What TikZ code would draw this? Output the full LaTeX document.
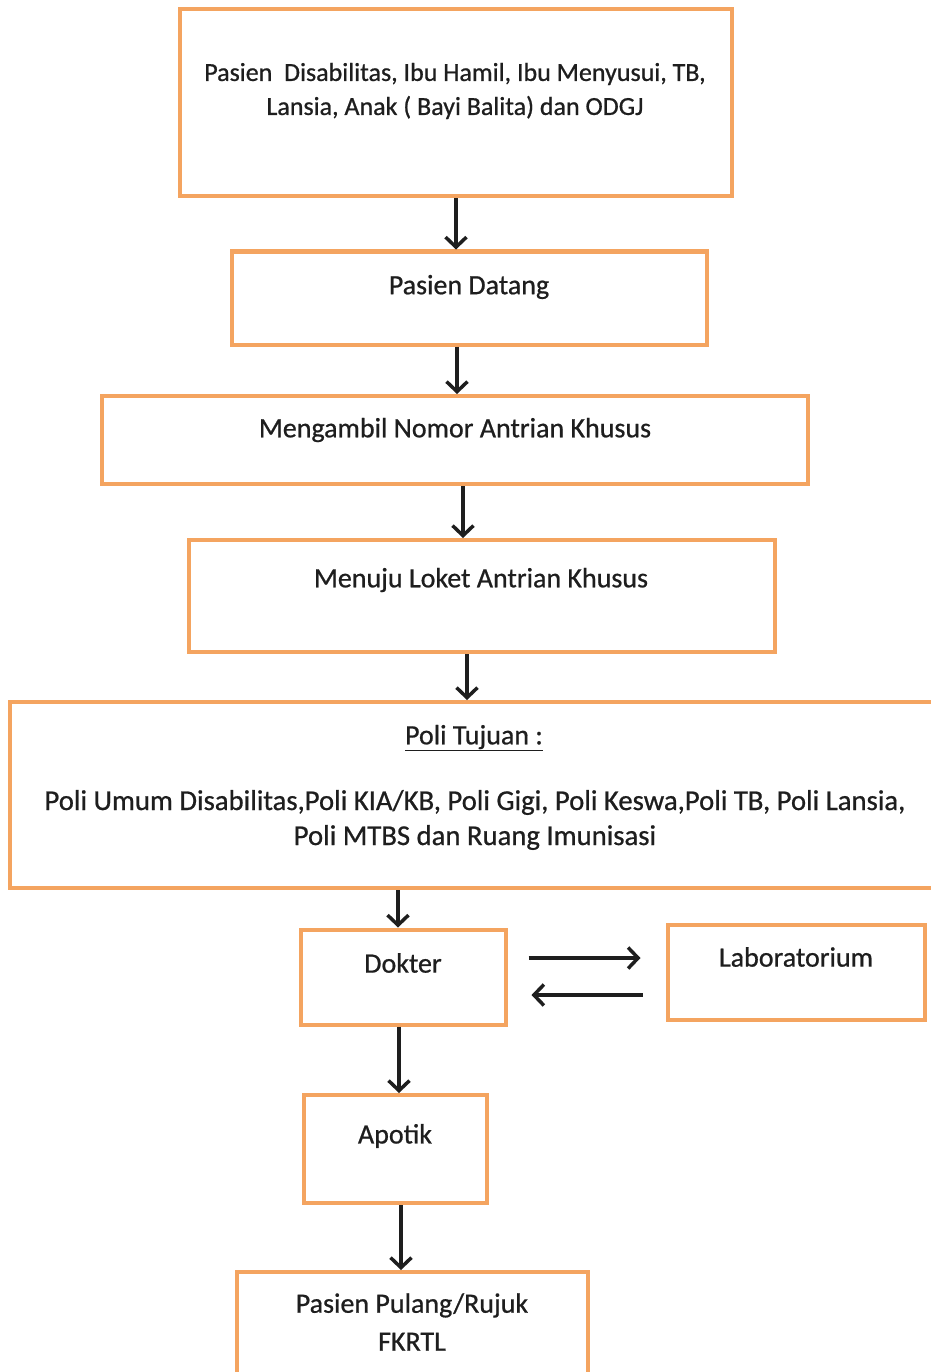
\documentclass[tikz,border=0pt]{standalone}
\usepackage{fontspec}
\setmainfont{Carlito}[FakeBold=0.7]
\usetikzlibrary{arrows.meta}
\definecolor{oranye}{RGB}{244,164,96}
\definecolor{tinta}{RGB}{30,30,30}

\begin{document}
\begin{tikzpicture}[x=1pt,y=-1pt,
	box/.style={draw=oranye,line width=4pt,fill=white,inner sep=0pt},
	txt/.style={text=tinta,font=\fontsize{28}{35}\selectfont,align=center,inner sep=0pt},
	arr/.style={draw=tinta,line width=3.5pt,-{Straight Barb[length=10pt,width=21pt]}}]
	\useasboundingbox (0,0) rectangle (930,1372);
	% kotak
	\node[box,minimum width=552pt,minimum height=187pt] (kelompok) at (456,103) {};
	\node[box,minimum width=475pt,minimum height=93pt] (datang) at (469,298) {};
	\node[box,minimum width=706pt,minimum height=88pt] (nomor) at (455,440) {};
	\node[box,minimum width=586pt,minimum height=112pt] (loket) at (482,596) {};
	\node[box,minimum width=930pt,minimum height=186pt] (poli) at (475,795) {};
	\node[box,minimum width=205pt,minimum height=95pt] (dokter) at (403,977) {};
	\node[box,minimum width=257pt,minimum height=95pt] (lab) at (796,972) {};
	\node[box,minimum width=183pt,minimum height=108pt] (apotik) at (395,1149) {};
	\node[box,minimum width=351pt,minimum height=108pt] (pulang) at (412,1326) {};
	% teks
	\node[txt,font=\fontsize{26}{34}\selectfont] (tkelompok) at (455,91) {Pasien\ \ Disabilitas, Ibu Hamil, Ibu Menyusui, TB,\\Lansia, Anak ( Bayi Balita) dan ODGJ};
	\node[txt] (tdatang) at (469,287) {Pasien Datang};
	\node[txt] (tnomor) at (455,430) {Mengambil Nomor Antrian Khusus};
	\node[txt] (tloket) at (481,580) {Menuju Loket Antrian Khusus};
	\node[txt] (tjudul) at (474,738) {\underline{Poli Tujuan :}};
	\node[txt,font=\fontsize{28.7}{35}\selectfont] (tpoli) at (475,820) {Poli Umum Disabilitas,Poli KIA/KB, Poli Gigi, Poli Keswa,Poli TB, Poli Lansia,\\Poli MTBS dan Ruang Imunisasi};
	\node[txt] (tdokter) at (403,963) {Dokter};
	\node[txt] (tlab) at (796,957) {Laboratorium};
	\node[txt] (tapotik) at (395,1136) {Apotik};
	\node[txt,font=\fontsize{28}{38}\selectfont] (tpulang) at (412,1322) {Pasien Pulang/Rujuk\\FKRTL};
	% panah
	\draw[arr] (kelompok.south) -- (kelompok.south |- datang.north);
	\draw[arr] ([xshift=-12pt]datang.south) -- ([xshift=-12pt]datang.south |- nomor.north);
	\draw[arr] ([xshift=8pt]nomor.south) -- ([xshift=8pt]nomor.south |- loket.north);
	\draw[arr] ([xshift=-15pt]loket.south) -- ([xshift=-15pt]loket.south |- poli.north);
	\draw[arr] ([xshift=-5pt]dokter.north |- poli.south) -- ([xshift=-5pt]dokter.north);
	\draw[arr] ([xshift=4pt]apotik.north |- dokter.south) -- ([xshift=4pt]apotik.north);
	\draw[arr] ([xshift=6pt]apotik.south) -- ([xshift=6pt]apotik.south |- pulang.north);
	\draw[arr,shorten <=21pt,shorten >=25pt] ([yshift=19pt]dokter.east) -- ([yshift=19pt]dokter.east -| lab.west);
	\draw[arr,shorten <=23pt,shorten >=24pt] ([yshift=-18pt]dokter.east -| lab.west) -- ([yshift=-18pt]dokter.east);
\end{tikzpicture}
\end{document}
